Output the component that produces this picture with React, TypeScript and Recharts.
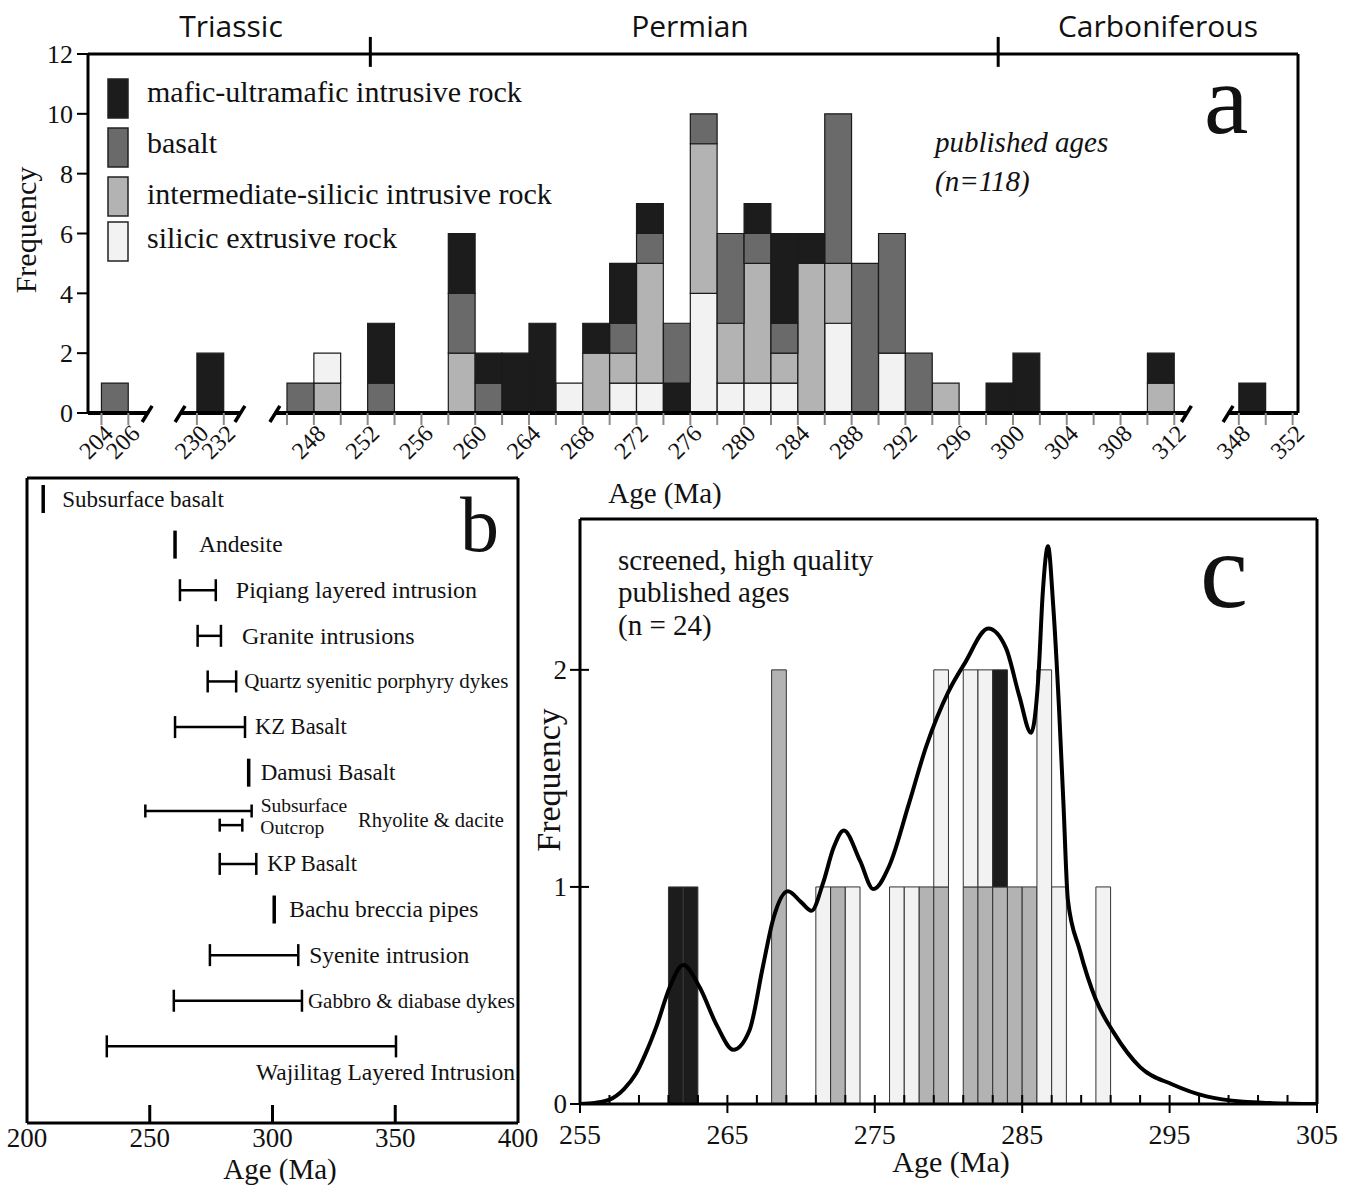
import React from 'react';
import {
  ComposedChart, ScatterChart, Bar, Cell, Line, Scatter, ErrorBar,
  XAxis, YAxis, ReferenceLine,
} from 'recharts';

const SERIF = '"Liberation Serif", "Times New Roman", serif';
const SANS = '"Open Sans", "Noto Sans", sans-serif';

const FILL: Record<string, string> = {
  mafic: '#1c1c1c',
  basalt: '#6a6a6a',
  intermediate: '#b3b3b3',
  extrusive: '#f2f2f2',
};

// ---------- a: all published ages, 2 Ma bins ----------
const binStart = [204, 230, 246, 248, 252, 258, 260, 262, 264, 266, 268, 270, 272, 274,
  276, 278, 280, 282, 284, 286, 288, 290, 292, 294, 298, 300, 310, 348];
const mafic =        [0, 2, 0, 0, 2, 2, 1, 2, 3, 0, 1, 2, 1, 1, 0, 0, 1, 3, 1, 0, 0, 0, 0, 0, 1, 2, 1, 1];
const basalt =       [1, 0, 1, 0, 1, 2, 1, 0, 0, 0, 0, 1, 1, 2, 1, 3, 1, 1, 0, 5, 5, 4, 2, 0, 0, 0, 0, 0];
const intermediate = [0, 0, 0, 1, 0, 2, 0, 0, 0, 0, 2, 1, 4, 0, 5, 2, 4, 1, 5, 2, 0, 0, 0, 1, 0, 0, 1, 0];
const extrusive =    [0, 0, 0, 1, 0, 0, 0, 0, 0, 1, 0, 1, 1, 0, 4, 1, 1, 1, 0, 3, 0, 2, 0, 0, 0, 0, 0, 0];

const typeOrder = ['extrusive', 'intermediate', 'basalt', 'mafic'];
// two bins are stacked in another order in the original figure
const orderOverride: Record<number, string[]> = {
  248: ['intermediate', 'extrusive', 'basalt', 'mafic'],
  274: ['mafic', 'extrusive', 'intermediate', 'basalt'],
};

const periodBounds = [252.2, 298.9];
const labelledAges = [204, 206, 230, 232, 248, 252, 256, 260, 264, 268, 272, 276, 280, 284,
  288, 292, 296, 300, 304, 308, 312, 348, 352];

// broken age axis: every piece is shifted onto one continuous scale (0..90)
const pieces = [
  { min: 204, max: 206, shift: 203, lo: 0, hi: 4.4, cutLo: false, cutHi: true },
  { min: 230, max: 232, shift: 221.9, lo: 6.85, hi: 11.3, cutLo: true, cutHi: true },
  { min: 246, max: 312, shift: 231.2, lo: 13.9, hi: 81.7, cutLo: true, cutHi: true },
  { min: 348, max: 352, shift: 262.4, lo: 84.8, hi: 90, cutLo: true, cutHi: false },
];
const toV = (age: number) => {
  const p = pieces.find((q) => age >= q.min - 1 && age <= q.max + 1)!;
  return age - p.shift;
};
const tickAges: number[] = [];
pieces.forEach((p) => { for (let a = p.min; a <= p.max; a += 2) tickAges.push(a); });
const ageOfV = (v: number) => tickAges.find((a) => Math.abs(toV(a) - v) < 1e-6);

const rowsA = binStart.map((b, i) => {
  const counts: Record<string, number> = {
    mafic: mafic[i], basalt: basalt[i], intermediate: intermediate[i], extrusive: extrusive[i],
  };
  const order = orderOverride[b] ?? typeOrder;
  const row: any = { v: toV(b + 1) };
  order.forEach((t, k) => { row['l' + k] = counts[t]; row['t' + k] = t; });
  return row;
});

// ---------- b: age ranges by unit ----------
const unitNames = ['Subsurface basalt', 'Andesite', 'Piqiang layered intrusion', 'Granite intrusions',
  'Quartz syenitic porphyry dykes', 'KZ Basalt', 'Damusi Basalt', 'Subsurface', 'Outcrop', 'KP Basalt',
  'Bachu breccia pipes', 'Syenite intrusion', 'Gabbro & diabase dykes', 'Wajilitag Layered Intrusion'];
const unitRow = [0, 1, 2, 3, 4, 5, 6, 6.84, 7.15, 8, 9, 10, 11, 12];
const ageMin = [206.6, 260.3, 262.3, 269.5, 273.6, 260.3, 290.3, 248.2, 278.5, 278.5, 300.7, 274.5, 259.8, 232.5];
const ageMax = [206.6, 260.3, 276.9, 279.0, 285.2, 288.8, 290.3, 291.5, 287.7, 293.4, 300.7, 310.5, 312.0, 350.3];
const rhyoliteParts = ['Subsurface', 'Outcrop'];

const labelLayout: Record<string, { dx: number; dy?: number; size: number }> = {
  'Subsurface basalt': { dx: 19, size: 23 },
  Andesite: { dx: 24, size: 23.5 },
  'Piqiang layered intrusion': { dx: 20, size: 24 },
  'Granite intrusions': { dx: 21, size: 24 },
  'Quartz syenitic porphyry dykes': { dx: 8, size: 21 },
  'KZ Basalt': { dx: 10, size: 22.5 },
  'Damusi Basalt': { dx: 12, size: 23 },
  Subsurface: { dx: 9, dy: -5, size: 19.5 },
  Outcrop: { dx: 18, dy: 2, size: 19.5 },
  'KP Basalt': { dx: 11, size: 22.5 },
  'Bachu breccia pipes': { dx: 15, size: 23.5 },
  'Syenite intrusion': { dx: 11, size: 23.5 },
  'Gabbro & diabase dykes': { dx: 6, size: 21 },
  'Wajilitag Layered Intrusion': { dx: -140, dy: 26, size: 23.5 },
};

const bRows = unitNames.map((name, i) => ({
  name,
  x: (ageMin[i] + ageMax[i]) / 2,
  y: unitRow[i],
  err: [(ageMax[i] - ageMin[i]) / 2, (ageMax[i] - ageMin[i]) / 2],
  single: ageMin[i] === ageMax[i],
}));
const bRanges = bRows.filter((r) => !r.single && !rhyoliteParts.includes(r.name));
const bRhyolite = bRows.filter((r) => rhyoliteParts.includes(r.name));
const bPoints = bRows.filter((r) => r.single);
const bLabels = unitNames.map((name, i) => ({ name, x: ageMax[i], y: unitRow[i] }));

// ---------- c: screened ages, 1 Ma bins + density curve ----------
const cBins = [261, 262, 268, 271, 272, 273, 276, 277, 278, 279, 281, 282, 283, 284, 285, 286, 287, 290];
const cIntermediate = [0, 0, 2, 0, 1, 0, 0, 0, 1, 1, 1, 1, 1, 1, 1, 0, 0, 0];
const cExtrusive =    [0, 0, 0, 1, 0, 1, 1, 1, 0, 1, 1, 1, 0, 0, 0, 2, 1, 1];
const cMafic =        [1, 1, 0, 0, 0, 0, 0, 0, 0, 0, 0, 0, 1, 0, 0, 0, 0, 0];

const kdeAge = [255, 256, 257, 258, 258.8, 259.5, 260.2, 261.1, 262.0, 263.1, 264.3, 265.4, 266.5, 267.4,
  268.1, 269.1, 270.0, 270.7, 271.5, 272.2, 272.9, 274.0, 274.9, 276.0, 277.3, 278.5, 280.0, 281.1,
  282.7, 283.9, 284.8, 285.6, 286.1, 286.4, 286.75, 287.1, 287.5, 287.8, 288.1, 288.9, 290.0, 291.2,
  293.0, 295.2, 297.5, 300, 302, 305];
const kdeDensity = [0, 0.005, 0.02, 0.07, 0.14, 0.24, 0.36, 0.54, 0.64, 0.54, 0.36, 0.25, 0.34, 0.63,
  0.85, 0.98, 0.93, 0.89, 1.02, 1.18, 1.26, 1.12, 0.99, 1.10, 1.38, 1.65, 1.90, 2.03,
  2.19, 2.10, 1.88, 1.71, 1.97, 2.36, 2.57, 2.30, 1.82, 1.38, 0.94, 0.71, 0.48, 0.33,
  0.17, 0.09, 0.035, 0.01, 0.004, 0];

const cTicks: number[] = [];
for (let a = 255; a <= 305; a += 2) cTicks.push(a);
const C_TOP = 2.695;

const rowsC = cBins.map((b, i) => ({
  x: b + 0.5, intermediate: cIntermediate[i], extrusive: cExtrusive[i], mafic: cMafic[i],
}));
const kdeRows = kdeAge.map((a, i) => ({ x: a, d: kdeDensity[i] }));

// ---------- ticks ----------
const TickA = (props: any) => {
  const { x, y, payload } = props;
  const age = ageOfV(payload.value);
  const show = age !== undefined && labelledAges.includes(age);
  const ax = x + 13, ay = y + 22;
  return (
    <g>
      <line x1={x} y1={y} x2={x} y2={y + 12} stroke="#8a8a8a" strokeWidth={2} />
      {show && (
        <text x={ax} y={ay} transform={`rotate(-45 ${ax} ${ay})`} textAnchor="end"
          fontFamily={SERIF} fontSize={24} fill="#111">{age}</text>
      )}
    </g>
  );
};

const TickB = (props: any) => {
  const { x, y, payload } = props;
  const inner = payload.value > 200 && payload.value < 400;
  return (
    <g>
      {inner && <line x1={x} y1={y} x2={x} y2={y - 18} stroke="#000" strokeWidth={3} />}
      <text x={x} y={y + 24} textAnchor="middle" fontFamily={SERIF} fontSize={27} fill="#111">{payload.value}</text>
    </g>
  );
};

const TickCX = (props: any) => {
  const { x, y, payload } = props;
  const major = (payload.value - 255) % 10 === 0;
  return (
    <g>
      <line x1={x} y1={y - 9} x2={x} y2={major ? y + 9 : y} stroke="#000" strokeWidth={2} />
      {major && (
        <text x={x} y={y + 40} textAnchor="middle" fontFamily={SERIF} fontSize={28} fill="#111">{payload.value}</text>
      )}
    </g>
  );
};

const TickCY = (props: any) => {
  const { x, y, payload } = props;
  return (
    <g>
      <line x1={x - 10} y1={y} x2={x + 9} y2={y} stroke="#000" strokeWidth={2} />
      <text x={x - 13} y={y + 9} textAnchor="end" fontFamily={SERIF} fontSize={27} fill="#111">{payload.value}</text>
    </g>
  );
};

// ---------- panels ----------
function PanelA() {
  return (
    <ComposedChart width={1349} height={470} data={rowsA}
      margin={{ top: 54, right: 51, bottom: 0, left: 0 }} barGap={0} barCategoryGap={0}>
      <XAxis dataKey="v" type="number" domain={[0, 90]} allowDataOverflow ticks={tickAges.map(toV)}
        interval={0} axisLine={false} tickLine={false} tickSize={0} tickMargin={0} height={57}
        tick={<TickA />} />
      <YAxis type="number" domain={[0, 12]} ticks={[0, 2, 4, 6, 8, 10, 12]} width={88}
        axisLine={{ stroke: '#000', strokeWidth: 3 }} tickLine={{ stroke: '#000', strokeWidth: 2 }}
        tickSize={11} tickMargin={4} tick={{ fontFamily: SERIF, fontSize: 26, fill: '#111' }} />
      {[0, 1, 2, 3].map((k) => (
        <Bar key={k} dataKey={'l' + k} stackId="a" barSize={26.8} isAnimationActive={false}
          stroke="#1a1a1a" strokeWidth={1.2}>
          {rowsA.map((r, i) => <Cell key={i} fill={FILL[r['t' + k]]} />)}
        </Bar>
      ))}
      <ReferenceLine x={90} stroke="#000" strokeWidth={3} />
      <ReferenceLine y={12} stroke="#000" strokeWidth={3} />
      {periodBounds.map((b) => (
        <ReferenceLine key={b} ifOverflow="visible" stroke="#000" strokeWidth={3}
          segment={[{ x: toV(b), y: 11.57 }, { x: toV(b), y: 12.57 }]} />
      ))}
      {pieces.map((p, i) => (
        <ReferenceLine key={'ax' + i} ifOverflow="visible" stroke="#000" strokeWidth={4}
          segment={[{ x: p.lo, y: 0 }, { x: p.hi, y: 0 }]} />
      ))}
      {pieces.flatMap((p) => [p.cutLo ? p.lo : null, p.cutHi ? p.hi : null])
        .filter((c) => c !== null)
        .map((c, i) => (
          <ReferenceLine key={'cut' + i} ifOverflow="visible" stroke="#000" strokeWidth={3.5}
            segment={[{ x: (c as number) - 0.37, y: -0.3 }, { x: (c as number) + 0.37, y: 0.24 }]} />
        ))}
    </ComposedChart>
  );
}

const labelShape = (p: any) => {
  const L = labelLayout[p.payload.name];
  return (
    <text x={p.cx + L.dx} y={p.cy + (L.dy ?? 0) + L.size * 0.33} fontFamily={SERIF}
      fontSize={L.size} fill="#111">{p.payload.name}</text>
  );
};

function PanelB() {
  return (
    <ScatterChart width={545} height={735} margin={{ top: 28, right: 27, bottom: 22, left: 27 }}>
      <XAxis dataKey="x" type="number" domain={[200, 400]} allowDataOverflow ticks={[200, 250, 300, 350, 400]}
        interval={0} height={40} tickSize={0} tickMargin={0} tickLine={false}
        axisLine={{ stroke: '#000', strokeWidth: 3 }} tick={<TickB />} />
      <YAxis dataKey="y" type="number" domain={[-0.46, 13.68]} reversed hide allowDataOverflow />
      <ReferenceLine x={200} stroke="#000" strokeWidth={3} />
      <ReferenceLine x={400} stroke="#000" strokeWidth={3} />
      <ReferenceLine y={-0.46} stroke="#000" strokeWidth={3} />
      <Scatter data={bRanges} isAnimationActive={false} shape={() => <g />}>
        <ErrorBar dataKey="err" direction="x" width={11} strokeWidth={2.5} stroke="#000" />
      </Scatter>
      <Scatter data={bRhyolite} isAnimationActive={false} shape={() => <g />}>
        <ErrorBar dataKey="err" direction="x" width={6.5} strokeWidth={2.5} stroke="#000" />
      </Scatter>
      <Scatter data={bPoints} isAnimationActive={false}
        shape={(p: any) => <line x1={p.cx} x2={p.cx} y1={p.cy - 14} y2={p.cy + 14} stroke="#000" strokeWidth={3.5} />} />
      <Scatter data={bLabels} isAnimationActive={false} shape={labelShape} />
    </ScatterChart>
  );
}

function PanelC() {
  return (
    <ComposedChart width={829} height={705} data={rowsC}
      margin={{ top: 39, right: 32, bottom: 0, left: 0 }} barGap={0} barCategoryGap={0}>
      <XAxis dataKey="x" type="number" domain={[255, 305]} allowDataOverflow ticks={cTicks} interval={0}
        height={81} tickSize={0} tickMargin={0} tickLine={false}
        axisLine={{ stroke: '#000', strokeWidth: 3 }} tick={<TickCX />} />
      {/* the density curve sits on its own hidden axis so its dense points do not shrink the bars */}
      <XAxis xAxisId="kde" dataKey="x" type="number" domain={[255, 305]} allowDataOverflow hide height={0} />
      <YAxis type="number" domain={[0, C_TOP]} allowDataOverflow ticks={[0, 1, 2]} width={60}
        tickSize={0} tickMargin={0} tickLine={false}
        axisLine={{ stroke: '#000', strokeWidth: 3 }} tick={<TickCY />} />
      <Bar dataKey="intermediate" stackId="c" barSize={14.7} fill={FILL.intermediate}
        stroke="#333" strokeWidth={1} isAnimationActive={false} />
      <Bar dataKey="extrusive" stackId="c" barSize={14.7} fill={FILL.extrusive}
        stroke="#333" strokeWidth={1} isAnimationActive={false} />
      <Bar dataKey="mafic" stackId="c" barSize={14.7} fill={FILL.mafic}
        stroke="#333" strokeWidth={1} isAnimationActive={false} />
      <Line xAxisId="kde" data={kdeRows} dataKey="d" type="monotone" dot={false} stroke="#000" strokeWidth={4}
        isAnimationActive={false} />
      <ReferenceLine y={C_TOP} stroke="#000" strokeWidth={3} />
      <ReferenceLine x={305} stroke="#000" strokeWidth={3} />
    </ComposedChart>
  );
}

const legendItems = [
  { type: 'mafic', text: 'mafic-ultramafic intrusive rock' },
  { type: 'basalt', text: 'basalt' },
  { type: 'intermediate', text: 'intermediate-silicic intrusive rock' },
  { type: 'extrusive', text: 'silicic extrusive rock' },
];
const legendTop = [79, 128, 177, 222];
const legendBase = [102, 153, 204, 248];

function Notes() {
  return (
    <svg width={1349} height={1185} style={{ position: 'absolute', left: 0, top: 0, pointerEvents: 'none' }}>
      <g fontFamily={SANS} fontSize={30} fill="#111" textAnchor="middle">
        <text x={231} y={37}>Triassic</text>
        <text x={690} y={37}>Permian</text>
        <text x={1158} y={37}>Carboniferous</text>
      </g>
      {legendItems.map((it, i) => (
        <g key={it.type}>
          <rect x={108} y={legendTop[i]} width={20} height={39} fill={FILL[it.type]} stroke="#222" strokeWidth={1.5} />
          <text x={147} y={legendBase[i]} fontFamily={SERIF} fontSize={30} fill="#111">{it.text}</text>
        </g>
      ))}
      <g fontFamily={SERIF} fontStyle="italic" fontSize={29} fill="#111">
        <text x={935} y={152}>published ages</text>
        <text x={935} y={191}>(n=118)</text>
      </g>
      <g fontFamily={SERIF} fill="#111">
        <text x={1204} y={133} fontSize={100}>a</text>
        <text x={460} y={551} fontSize={78}>b</text>
        <text x={1200} y={607} fontSize={108}>c</text>
        <text x={25} y={230} fontSize={30} textAnchor="middle" transform="rotate(-90 25 230)" dominantBaseline="central">Frequency</text>
        <text x={665} y={503} fontSize={29} textAnchor="middle">Age (Ma)</text>
        <text x={280} y={1179} fontSize={29} textAnchor="middle">Age (Ma)</text>
        <text x={951} y={1172} fontSize={30} textAnchor="middle">Age (Ma)</text>
        <text x={548} y={780} fontSize={34} textAnchor="middle" transform="rotate(-90 548 780)" dominantBaseline="central">Frequency</text>
        <text x={358} y={827} fontSize={20.5}>Rhyolite &amp; dacite</text>
        <text x={618} y={570} fontSize={29}>screened, high quality</text>
        <text x={618} y={602} fontSize={29}>published ages</text>
        <text x={618} y={635} fontSize={29}>(n = 24)</text>
      </g>
    </svg>
  );
}

export default function App() {
  return (
    <div style={{ position: 'absolute', left: 0, top: 0, width: 1349, height: 1185, background: '#fff' }}>
      <div style={{ position: 'absolute', left: 0, top: 0 }}><PanelA /></div>
      <div style={{ position: 'absolute', left: 0, top: 450 }}><PanelB /></div>
      <div style={{ position: 'absolute', left: 520, top: 480 }}><PanelC /></div>
      <Notes />
    </div>
  );
}
